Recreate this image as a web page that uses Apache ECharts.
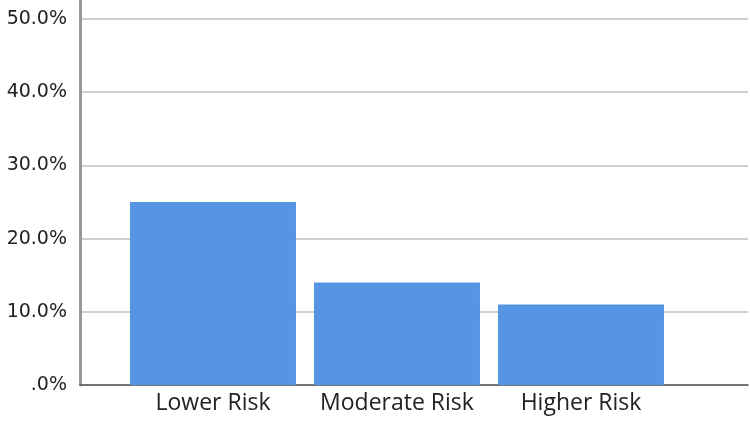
<!DOCTYPE html>
<html>
<head>
<meta charset="utf-8">
<script src="https://cdn.jsdelivr.net/npm/echarts@6/dist/echarts.min.js"></script>
<style>
  html, body { margin: 0; padding: 0; background: #fff; }
  #chart { width: 750px; height: 421px; }
</style>
</head>
<body>
<div id="chart"></div>
<script>
const categories = ["Lower Risk", "Moderate Risk", "Higher Risk"];
const percentValues = [25.0, 14.0, 11.0];
const yTickLabels = [".0%", "10.0%", "20.0%", "30.0%", "40.0%", "50.0%"];

const Y_MAX = 52.6;
const Y_STEP = 10;
const GRID_TOP = 0;
const GRID_BOTTOM = 36;

const chart = echarts.init(document.getElementById("chart"), null, { renderer: "canvas" });

chart.setOption({
  animation: false,
  backgroundColor: "#ffffff",
  grid: [
    // frame: y axis, gridlines and baseline across the full width
    { left: 80, right: 2, top: GRID_TOP, bottom: GRID_BOTTOM },
    // bars sit in a narrower band, like the original
    { left: 121, width: 552, top: GRID_TOP, bottom: GRID_BOTTOM },
  ],
  xAxis: [
    {
      gridIndex: 0,
      type: "category",
      data: [""],
      axisLine: { show: true, lineStyle: { color: "#555", width: 1.5 } },
      axisTick: { show: false },
      axisLabel: { show: false },
    },
    {
      gridIndex: 1,
      type: "category",
      data: categories,
      axisLine: { show: false },
      axisTick: { show: false },
      axisLabel: {
        interval: 0,
        margin: 7,
        color: "#222",
        fontSize: 23,
        fontFamily: "Open Sans",
      },
    },
  ],
  yAxis: [
    {
      gridIndex: 0,
      type: "value",
      min: 0,
      max: Y_MAX,
      interval: Y_STEP,
      axisLine: { show: true, lineStyle: { color: "#999", width: 3 } },
      axisTick: { show: false },
      splitLine: { show: true, showMaxLine: false, lineStyle: { color: "#cfcfcf", width: 2 } },
      axisLabel: {
        margin: 13,
        color: "#222",
        fontSize: 19,
        fontFamily: "DejaVu Sans",
        formatter: (v) => {
          const i = Math.round(v / Y_STEP);
          if (Math.abs(v - i * Y_STEP) > 1e-6) return "";
          return yTickLabels[i] ?? "";
        },
      },
    },
    {
      gridIndex: 1,
      type: "value",
      min: 0,
      max: Y_MAX,
      show: false,
    },
  ],
  series: [
    {
      type: "bar",
      xAxisIndex: 1,
      yAxisIndex: 1,
      data: percentValues,
      barCategoryGap: "9.8%",
      itemStyle: { color: "#5595e3" },
      z: 3,
    },
  ],
});
</script>
</body>
</html>
